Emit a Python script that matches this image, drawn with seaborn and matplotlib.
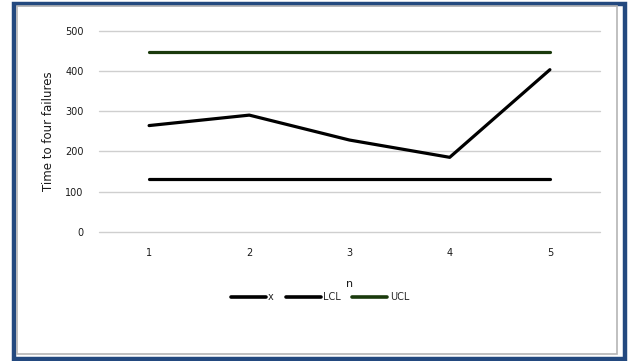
import matplotlib
matplotlib.use("Agg")
import matplotlib.pyplot as plt
from matplotlib.patches import Rectangle
import pandas as pd
import seaborn as sns

# Control chart data: time to four failures per sample
n = [1, 2, 3, 4, 5]
x_values = [264, 290, 228, 185, 403]
lcl_values = [131, 131, 131, 131, 131]
ucl_values = [446, 446, 446, 446, 446]
series_names = ["x", "LCL", "UCL"]
y_ticks = [0, 100, 200, 300, 400, 500]

df = pd.DataFrame({
    "n": n * 3,
    "value": x_values + lcl_values + ucl_values,
    "series": [series_names[0]] * 5 + [series_names[1]] * 5 + [series_names[2]] * 5,
})

sns.set_theme(style="white")
plt.rcParams["font.family"] = ["DejaVu Sans"]

W, H = 633, 361
fig = plt.figure(figsize=(W / 100, H / 100), dpi=100)
fig.patch.set_facecolor("white")

# outer blue frame and inner grey chart-area border
fig.patches.append(Rectangle((14 / W, 1 - 359 / H), 611 / W, 355 / H,
                             transform=fig.transFigure, fill=False,
                             edgecolor="#23497f", linewidth=3.2, zorder=0))
fig.patches.append(Rectangle((17 / W, 1 - 354 / H), 600 / W, 348 / H,
                             transform=fig.transFigure, fill=False,
                             edgecolor="#b5b5b5", linewidth=1.2, zorder=0))

ax = fig.add_axes([99 / W, 1 - 231.7 / H, 501 / W, 201 / H])
palette = {"x": "#000000", "LCL": "#000000", "UCL": "#1a3a0c"}
sns.lineplot(data=df, x="n", y="value", hue="series", palette=palette,
             linewidth=2.3, ax=ax, legend=True, sort=False)
for line in ax.get_lines():
    line.set_solid_capstyle("round")

ax.set_xlim(0.5, 5.5)
ax.set_ylim(0, 500)
ax.set_xticks(n)
ax.set_xticklabels([str(v) for v in n])
ax.set_yticks(y_ticks)
ax.set_yticklabels([str(v) for v in y_ticks])
ax.tick_params(axis="both", length=0, labelsize=7, colors="#1a1a1a")
ax.tick_params(axis="x", pad=11.5)
ax.tick_params(axis="y", pad=11)
ax.grid(axis="y", color="#cfcfcf", linewidth=1.0)
for gl in ax.get_ygridlines():
    gl.set_clip_on(False)
ax.set_axisbelow(True)
for s in ax.spines.values():
    s.set_visible(False)

ax.set_xlabel("n", fontsize=8, color="#1a1a1a", labelpad=15)
ax.set_ylabel("Time to four failures", fontsize=8.5, color="#1a1a1a", labelpad=7)

leg = ax.legend(loc="center", bbox_to_anchor=(320 / W, 1 - 297 / H),
                bbox_transform=fig.transFigure, ncol=3, frameon=False,
                fontsize=7, handlelength=3.6, handletextpad=0.25,
                columnspacing=1.2)
for h in leg.get_lines():
    h.set_linewidth(2.6)

fig.savefig("out.png", dpi=100)
